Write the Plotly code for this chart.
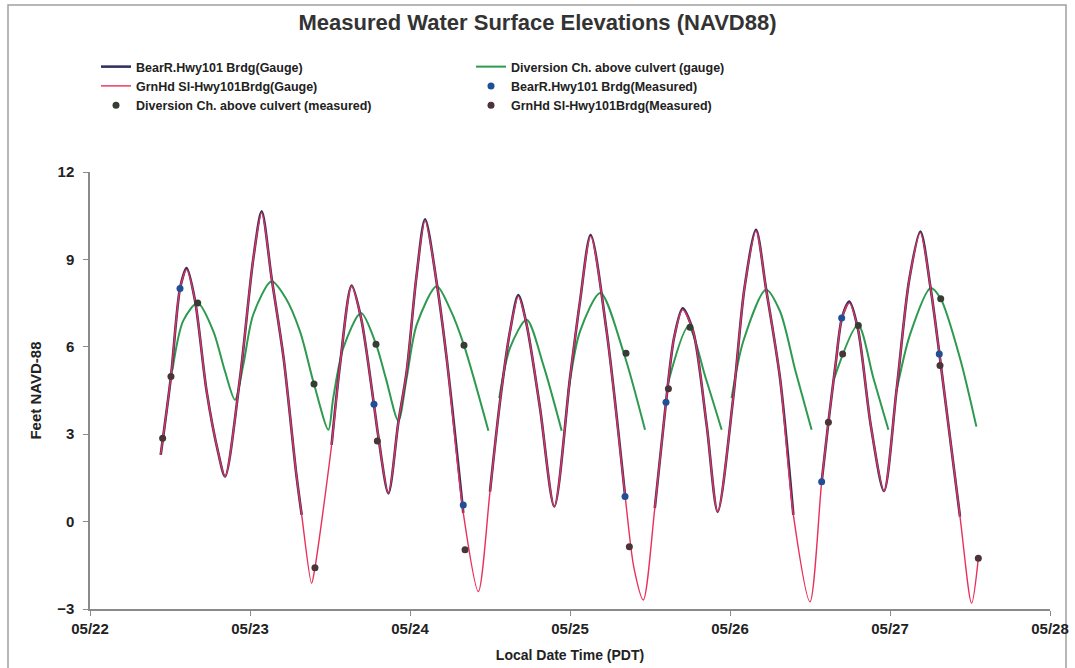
import pandas as pd
import plotly.graph_objects as go

BASE = pd.Timestamp("2010-05-22")

# ---- GrnHd Sl-Hwy101 Brdg (Gauge) : time in days after 05/22 00:00, feet NAVD88
grnhd_t = [0.442, 0.506, 0.5625, 0.604, 0.656, 0.729, 0.80, 0.844, 0.9375, 1.02, 1.073, 1.135,
           1.21, 1.29, 1.323, 1.385, 1.406, 1.51, 1.5625, 1.635, 1.694, 1.775, 1.80, 1.865, 1.927,
           1.979, 2.04, 2.094, 2.167, 2.229, 2.333, 2.427, 2.5, 2.5625, 2.625, 2.677, 2.729, 2.8125,
           2.902, 3.0, 3.0625, 3.129, 3.229, 3.344, 3.40, 3.458, 3.53, 3.6, 3.65, 3.704, 3.77, 3.854,
           3.923, 4.02, 4.09, 4.1625, 4.225, 4.3125, 4.396, 4.5, 4.573, 4.615, 4.66, 4.70, 4.746,
           4.80, 4.88, 4.9625, 5.04, 5.12, 5.19, 5.254, 5.3125, 5.4375, 5.51, 5.552]
grnhd_v = [2.29, 4.98, 8.0, 8.65, 7.6, 4.47, 2.4, 1.55, 4.93, 9.0, 10.6, 8.36,
           5.61, 1.6, 0.23, -2.12, -1.58, 2.63, 5.38, 8.08, 6.99, 4.0, 3.0, 0.97, 3.4,
           5.15, 8.4, 10.33, 8.19, 5.61, 0.3, -2.4, 1.03, 4.12, 6.53, 7.73, 6.76, 3.9,
           0.52, 4.93, 7.56, 9.79, 6.53, 0.9, -1.6, -2.69, 0.46, 4.1, 6.3, 7.27, 6.53, 3.32,
           0.34, 4.24, 8.0, 9.97, 8.0, 4.93, 0.23, -2.75, 1.37, 3.41, 5.4, 7.0, 7.5,
           6.6, 3.3, 1.05, 4.47, 8.3, 9.91, 8.0, 5.6, 0.17, -2.8, -1.26]

# ---- BearR.Hwy101 Brdg (Gauge): same sampling times, no record at the deep lows
bear_t = grnhd_t
bear_v = [2.29, 4.98, 8.0, 8.7, 7.6, 4.47, 2.4, 1.55, 4.93, 9.0, 10.65, 8.36,
          5.61, 1.6, 0.23, None, None, 2.63, 5.38, 8.1, 6.99, 4.0, 3.0, 0.97, 3.4,
          5.15, 8.4, 10.38, 8.19, 5.61, 0.3, None, 1.03, 4.12, 6.53, 7.78, 6.76, 3.9,
          0.52, 4.93, 7.56, 9.84, 6.53, 0.9, None, None, 0.46, 4.1, 6.3, 7.32, 6.53, 3.32,
          0.34, 4.24, 8.0, 10.02, 8.0, 4.93, 0.23, None, 1.37, 3.41, 5.4, 7.0, 7.55,
          6.6, 3.3, 1.05, 4.47, 8.3, 9.96, 8.0, 5.6, 0.17, None, None]

# ---- Diversion Ch. above culvert (gauge)
div_t = [0.515, 0.583, 0.673, 0.771, 0.844, 0.906, 0.958, 1.02, 1.135, 1.22, 1.3125, 1.40, 1.49,
         1.52, 1.583, 1.694, 1.7875, 1.85, 1.927, 1.979, 2.042, 2.167, 2.25, 2.3375, 2.49,
         2.52, 2.558, 2.625, 2.729, 2.833, 2.948, 2.97, 2.99, 3.0625, 3.19, 3.333, 3.469,
         3.54, 3.61, 3.74, 3.848, 3.948, 3.98, 4.01, 4.083, 4.225, 4.3125, 4.41, 4.51,
         4.58, 4.65, 4.80, 4.896, 4.99, 5.01, 5.04, 5.125, 5.254, 5.317, 5.4375, 5.54]
div_v = [5.2, 6.9, 7.5, 6.53, 5.15, 4.18, 5.38, 7.1, 8.25, 7.7, 6.53, 4.72, 3.15,
         4.24, 5.96, 7.16, 6.09, 4.9, 3.46, 4.93, 6.76, 8.08, 7.3, 6.05, 3.12,
         None, 4.24, 5.96, 6.93, 5.38, 3.12, None, 4.47, 6.53, 7.85, 5.84, 3.15,
         None, 4.7, 6.7, 4.93, 3.15, None, 4.24, 6.19, 7.96, 7.22, 5.15, 3.15,
         None, 4.9, 6.75, 4.93, 3.15, None, 4.47, 6.42, 8.02, 7.65, 5.61, 3.26]

# ---- Measured points
bear_meas_t = [0.5625, 1.775, 2.333, 3.344, 3.60, 4.573, 4.698, 5.308]
bear_meas_v = [8.0, 4.03, 0.57, 0.86, 4.1, 1.37, 6.99, 5.75]

div_meas_t = [0.673, 1.40, 1.7875, 2.3375, 3.35, 3.75, 4.802, 5.317]
div_meas_v = [7.5, 4.72, 6.09, 6.05, 5.78, 6.67, 6.73, 7.65]

grnhd_meas_t = [0.454, 0.506, 1.406, 1.796, 2.344, 3.371, 3.615, 4.615, 4.704, 5.3125, 5.552]
grnhd_meas_v = [2.86, 4.98, -1.58, 2.77, -0.97, -0.86, 4.56, 3.41, 5.75, 5.36, -1.26]

y_ticks = [-3, 0, 3, 6, 9, 12]


def to_time(days):
    return [BASE + pd.Timedelta(days=d) for d in days]


fig = go.Figure()

fig.add_trace(go.Scatter(x=to_time(div_t), y=div_v, mode="lines", name="<b>Diversion Ch. above culvert (gauge)</b>",
                         line=dict(color="#2e9a50", width=2, shape="spline", smoothing=0.8),
                         connectgaps=False, legendrank=2))
fig.add_trace(go.Scatter(x=to_time(bear_t), y=bear_v, mode="lines", name="<b>BearR.Hwy101 Brdg(Gauge)</b>",
                         line=dict(color="#33325f", width=2.6, shape="spline", smoothing=0.8),
                         connectgaps=False, legendrank=1))
fig.add_trace(go.Scatter(x=to_time(grnhd_t), y=grnhd_v, mode="lines", name="<b>GrnHd Sl-Hwy101Brdg(Gauge)</b>",
                         line=dict(color="#e8305a", width=1.4, shape="spline", smoothing=0.8),
                         legendrank=3))
fig.add_trace(go.Scatter(x=to_time(bear_meas_t), y=bear_meas_v, mode="markers", name="<b>BearR.Hwy101 Brdg(Measured)</b>",
                         marker=dict(color="#1f4f96", size=7), legendrank=4))
fig.add_trace(go.Scatter(x=to_time(div_meas_t), y=div_meas_v, mode="markers", name="<b>Diversion Ch. above culvert (measured)</b>",
                         marker=dict(color="#353d35", size=7), legendrank=5))
fig.add_trace(go.Scatter(x=to_time(grnhd_meas_t), y=grnhd_meas_v, mode="markers", name="<b>GrnHd Sl-Hwy101Brdg(Measured)</b>",
                         marker=dict(color="#4a3438", size=7), legendrank=6))

L, R, T, B = 90, 25, 172, 59
PW, PH = 1075 - L - R, 668 - T - B

fig.update_layout(
    width=1075, height=668,
    margin=dict(l=L, r=R, t=T, b=B),
    paper_bgcolor="white", plot_bgcolor="white",
    font=dict(family="Arial, Liberation Sans, sans-serif", color="#222"),
    title=dict(text="<b>Measured Water Surface Elevations (NAVD88)</b>", x=0.5, xanchor="center",
               y=1 - 22 / 668, yanchor="middle", font=dict(size=22, color="#333")),
    showlegend=True,
    legend=dict(orientation="h", x=(96 - L) / PW, xanchor="left", y=1 + (T - 52) / PH, yanchor="top",
                entrywidth=330, entrywidthmode="pixels", font=dict(size=12.5, color="#222"),
                bgcolor="rgba(0,0,0,0)", traceorder="normal", itemwidth=30),
    xaxis=dict(type="date", range=[BASE, BASE + pd.Timedelta(days=6)], dtick=86400000,
               tick0=BASE, tickformat="%m/%d", showgrid=False, zeroline=False, automargin=False,
               showline=True, linecolor="#8a8a8a", linewidth=1.5, ticks="outside", ticklen=5,
               tickcolor="#8a8a8a", tickfont=dict(size=15, color="#222", weight="bold"),
               title=dict(text="<b>Local Date Time (PDT)</b>", font=dict(size=14, color="#222"), standoff=14)),
    yaxis=dict(range=[-3, 12], tickvals=y_ticks, showgrid=False, zeroline=False, automargin=False,
               showline=True, linecolor="#8a8a8a", linewidth=1.5, ticks="outside", ticklen=5,
               tickcolor="#8a8a8a", tickfont=dict(size=15, color="#222", weight="bold"), ticklabelstandoff=6,
               title=dict(text="<b>Feet NAVD-88</b>", font=dict(size=15, color="#222"), standoff=12)),
    shapes=[dict(type="rect", xref="paper", yref="paper",
                 x0=(8 - L) / PW, x1=(1066 - L) / PW, y0=-(B + 5) / PH, y1=1 + (T - 5) / PH,
                 line=dict(color="#a0a0a0", width=1.5), fillcolor="rgba(0,0,0,0)", layer="below")],
)

fig.write_html("out.html")
